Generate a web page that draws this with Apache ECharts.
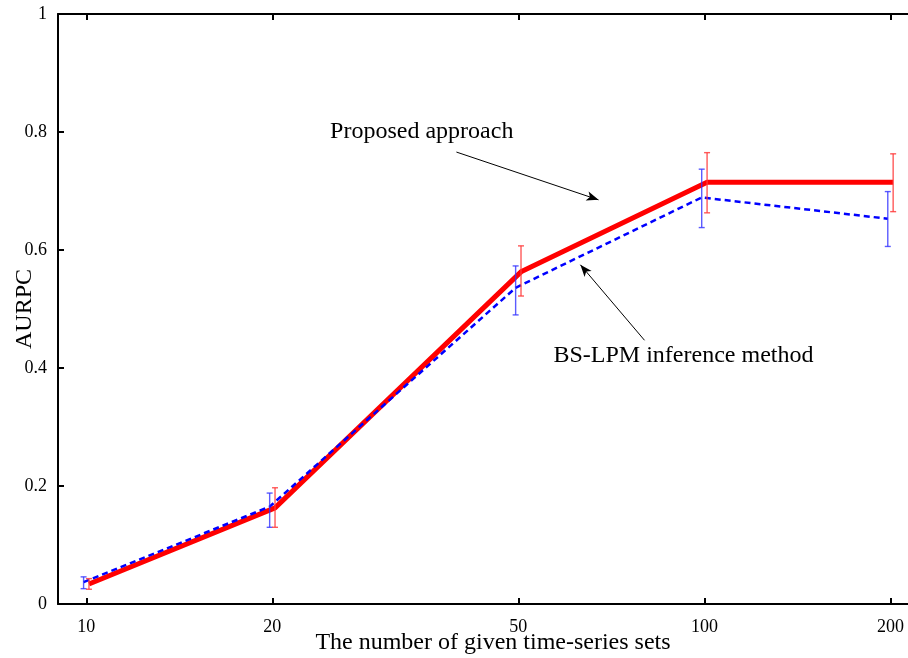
<!DOCTYPE html>
<html>
<head>
<meta charset="utf-8">
<script src="https://cdn.jsdelivr.net/npm/echarts@6/dist/echarts.min.js"></script>
<style>html,body{margin:0;padding:0;background:#fff}#c{width:908px;height:658px}</style>
</head>
<body>
<div id="c"></div>
<script>
// ---- data ----
const sizes = [10, 20, 50, 100, 200];
const proposed = [0.034, 0.163, 0.563, 0.715, 0.715];
const proposedLow = [0.025, 0.130, 0.522, 0.663, 0.665];
const proposedHigh = [0.043, 0.197, 0.607, 0.765, 0.763];
const bslpm = [0.037, 0.165, 0.536, 0.689, 0.653];
const bslpmLow = [0.026, 0.130, 0.490, 0.638, 0.606];
const bslpmHigh = [0.046, 0.188, 0.573, 0.737, 0.699];
const xTicks = [10, 20, 50, 100, 200];
const yTicks = [0, 0.2, 0.4, 0.6, 0.8, 1];
const labelProposed = 'Proposed approach';
const labelBslpm = 'BS-LPM inference method';
const xTitle = 'The number of given time-series sets';
const yTitle = 'AURPC';

// ---- styling / display offsets ----
const FONT = 'Liberation Serif';
const RED = '#ff0000', BLUE = '#0000ff';
const RED_BAR = 'rgba(255,60,60,0.85)', BLUE_BAR = 'rgba(50,50,255,0.8)';
const offRed = 1.01, offBlue = 0.99; // small horizontal dodge (multiplicative on log axis)

const redLine = sizes.map((s, i) => [s * offRed, proposed[i]]);
const blueLine = sizes.map((s, i) => [s * offBlue, bslpm[i]]);
const redErr = sizes.map((s, i) => [s * offRed, proposedLow[i], proposedHigh[i]]);
const blueErr = sizes.map((s, i) => [s * offBlue, bslpmLow[i], bslpmHigh[i]]);

function errRender(color) {
  return function (params, api) {
    const x = api.value(0), lo = api.value(1), hi = api.value(2);
    const a = api.coord([x, lo]), b = api.coord([x, hi]);
    const w = 3;
    const st = { stroke: color, lineWidth: 1.4 };
    return {
      type: 'group', children: [
        { type: 'line', shape: { x1: a[0], y1: a[1], x2: b[0], y2: b[1] }, style: st },
        { type: 'line', shape: { x1: a[0] - w, y1: a[1], x2: a[0] + w, y2: a[1] }, style: st },
        { type: 'line', shape: { x1: b[0] - w, y1: b[1], x2: b[0] + w, y2: b[1] }, style: st }
      ]
    };
  };
}

const chart = echarts.init(document.getElementById('c'), null, { renderer: 'canvas' });
const axisLineStyle = { color: '#000', width: 2 };
chart.setOption({
  animation: false,
  backgroundColor: '#fff',
  grid: { left: 58, top: 14, width: 870, bottom: 54, containLabel: false, outerBoundsMode: 'none' },
  xAxis: [
    {
      type: 'log', logBase: 10, min: 9, max: 230, position: 'bottom',
      name: xTitle, nameLocation: 'middle', nameGap: 27, nameMoveOverlap: false,
      nameTextStyle: { fontFamily: FONT, fontSize: 24, color: '#000' },
      axisLine: { show: true, onZero: false, lineStyle: axisLineStyle },
      axisTick: { show: true, inside: true, length: 6, lineStyle: { color: '#000', width: 2 }, customValues: xTicks },
      axisLabel: { show: true, fontFamily: FONT, fontSize: 18, color: '#000', margin: 14, customValues: xTicks, formatter: v => String(Math.round(v)) },
      splitLine: { show: false }, minorTick: { show: false }
    },
    {
      type: 'log', logBase: 10, min: 9, max: 230, position: 'top',
      axisLine: { show: true, onZero: false, lineStyle: axisLineStyle },
      axisTick: { show: true, inside: true, length: 6, lineStyle: { color: '#000', width: 2 }, customValues: xTicks },
      axisLabel: { show: false },
      splitLine: { show: false }
    }
  ],
  yAxis: {
    type: 'value', min: 0, max: 1, interval: 0.2,
    name: yTitle, nameLocation: 'middle', nameGap: 21, nameRotate: 90, nameMoveOverlap: false,
    nameTextStyle: { fontFamily: FONT, fontSize: 24, color: '#000' },
    axisLine: { show: true, lineStyle: axisLineStyle },
    axisTick: { show: true, inside: true, length: 6, lineStyle: { color: '#000', width: 2 } },
    axisLabel: { fontFamily: FONT, fontSize: 18, color: '#000', margin: 11, formatter: v => String(+v.toFixed(1)) },
    splitLine: { show: false }
  },
  series: [
    {
      name: labelProposed, type: 'line', data: redLine, xAxisIndex: 0,
      symbol: 'none', lineStyle: { color: RED, width: 5 }, z: 2,
      markLine: {
        silent: true, symbol: ['none', 'arrow'], symbolSize: [7, 12],
        lineStyle: { color: '#000', width: 1, type: 'solid' },
        label: { show: false },
        data: [
          [{ coord: [39.7, 0.766] }, { coord: [67.4, 0.685] }],
          [{ coord: [80.0, 0.447] }, { coord: [63.0, 0.575] }]
        ]
      }
    },
    {
      name: labelBslpm, type: 'line', data: blueLine, xAxisIndex: 0,
      symbol: 'none', lineStyle: { color: BLUE, width: 2.5, type: [6, 4] }, z: 3
    },
    { type: 'custom', xAxisIndex: 0, renderItem: errRender(BLUE_BAR), data: blueErr, encode: { x: 0, y: [1, 2] }, z: 4 },
    { type: 'custom', xAxisIndex: 0, renderItem: errRender(RED_BAR), data: redErr, encode: { x: 0, y: [1, 2] }, z: 4 }
  ]
});

// annotation texts placed in data coordinates
const notes = [
  { text: labelProposed, at: [24.8, 0.798] },
  { text: labelBslpm, at: [57.0, 0.419] }
];
chart.setOption({
  graphic: notes.map(n => {
    const p = chart.convertToPixel({ xAxisIndex: 0, yAxisIndex: 0 }, n.at);
    return {
      type: 'text', left: p[0], top: p[1] - 13,
      style: { text: n.text, font: '24px "' + FONT + '"', fill: '#000' }
    };
  })
});
</script>
</body>
</html>
